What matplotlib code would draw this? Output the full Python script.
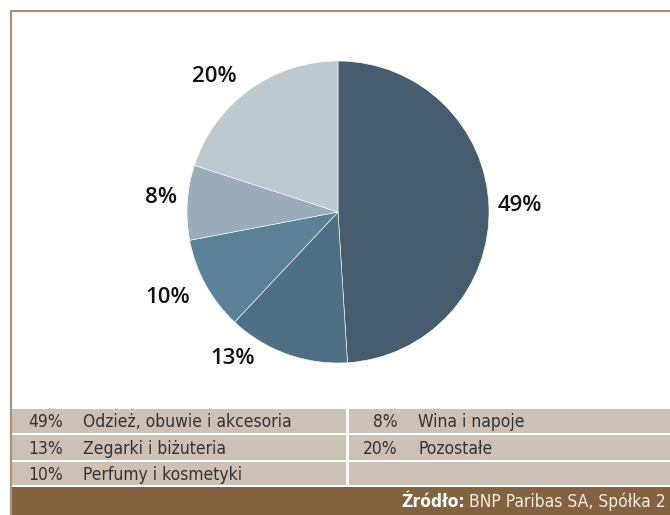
import matplotlib
matplotlib.use("Agg")
import matplotlib.pyplot as plt
from matplotlib import font_manager
from matplotlib.patches import Rectangle

# ---- data ----
shares = [49, 13, 10, 8, 20]
categories = ["Odzież, obuwie i akcesoria", "Zegarki i biżuteria", "Perfumy i kosmetyki",
              "Wina i napoje", "Pozostałe"]
colors = ["#465c6f", "#4f6f84", "#5a8196", "#9aabb9", "#bdc8cf"]
source_bold = "Źródło:"
source_text = " BNP Paribas SA, Spółka 2"

names = {f.name for f in font_manager.fontManager.ttflist}
if "Liberation Sans Narrow" in names:
    narrow = dict(family="Liberation Sans Narrow")
else:
    narrow = dict(family="DejaVu Sans", stretch="condensed")

W, H = 670, 515
fig = plt.figure(figsize=(W / 100, H / 100), dpi=100)
fig.patch.set_facecolor("white")

def fx(px):
    return px / W

def fy(py):
    return 1 - py / H

# background / frame axes in pixel coords
bg = fig.add_axes([0, 0, 1, 1])
bg.set_xlim(0, W)
bg.set_ylim(H, 0)
bg.axis("off")

border_c = "#a8927a"
bg.plot([10.5, 10.5], [10, H], color=border_c, lw=1.6, solid_capstyle="butt")
bg.plot([10, W], [10.5, 10.5], color=border_c, lw=1.6, solid_capstyle="butt")

band_c = "#cdc0b4"
rows = [(409, 433), (435, 460), (462, 485)]
for (y0, y1) in rows:
    bg.add_patch(Rectangle((11.5, y0), W - 11.5, y1 - y0, facecolor=band_c, edgecolor="none"))
bg.plot([347, 347], [409, 485], color="white", lw=2)
bg.add_patch(Rectangle((11.5, 487), W - 11.5, H - 487, facecolor="#83633f", edgecolor="none"))

# legend texts
fs_leg = 12.5
left_items = [0, 1, 2]
right_items = [3, 4]
for i, idx in enumerate(left_items):
    yc = (rows[i][0] + rows[i][1]) / 2 + 1
    bg.text(63, yc, f"{shares[idx]}%", ha="right", va="center", fontsize=fs_leg, color="#333333", **narrow)
    bg.text(83, yc, categories[idx], ha="left", va="center", fontsize=fs_leg, color="#333333", **narrow)
for i, idx in enumerate(right_items):
    yc = (rows[i][0] + rows[i][1]) / 2 + 1
    bg.text(398, yc, f"{shares[idx]}%", ha="right", va="center", fontsize=fs_leg, color="#333333", **narrow)
    bg.text(418, yc, categories[idx], ha="left", va="center", fontsize=fs_leg, color="#333333", **narrow)

# footer
t2 = bg.text(666, 502, source_text, ha="right", va="center", fontsize=12.5, color="#f3ece4", **narrow)
fig.canvas.draw()
bb = t2.get_window_extent()
bg.text(bb.x0, H - 502, source_bold, transform=None, ha="right", va="center",
        fontsize=12.5, fontweight="bold", color="white", **narrow)

# pie axes: centre (338, 212), radius 151 px
cx, cy, R = 338, 212, 151
k = 1.4
half = R * k
pie_ax = fig.add_axes([fx(cx - half), fy(cy + half), 2 * half / W, 2 * half / H])
wedges, _ = pie_ax.pie(
    shares, colors=colors, startangle=90, counterclock=False,
    wedgeprops=dict(edgecolor="white", linewidth=0.4))
pie_ax.set_xlim(-k, k)
pie_ax.set_ylim(-k, k)
pie_ax.set_aspect("equal")
pie_ax.axis("off")

# data label placement (in radius units), as in the picture
label_xy = [(1.205, 0.04), (-0.70, -0.967), (-1.126, -0.563), (-1.172, 0.093), (-0.82, 0.90)]
for s, (lx, ly) in zip(shares, label_xy):
    pie_ax.text(lx, ly, f"{s}%", ha="center", va="center", fontsize=16, color="#111111",
                family="Open Sans", fontweight="semibold", clip_on=False)

fig.savefig("out.png", dpi=100, facecolor="white")
